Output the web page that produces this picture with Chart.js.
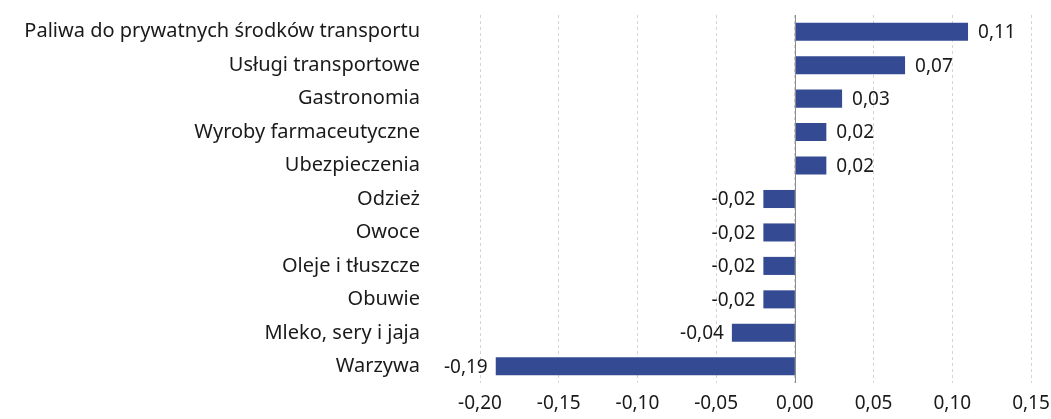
<!DOCTYPE html>
<html>
<head>
<meta charset="utf-8">
<script src="https://cdn.jsdelivr.net/npm/chart.js@4"></script>
<style>
  html, body { margin: 0; padding: 0; background: #fff; }
  #wrap { width: 1051px; height: 419px; }
</style>
</head>
<body>
<div id="wrap"><canvas id="myChart" width="1051" height="419"></canvas></div>
<script>
document.addEventListener("DOMContentLoaded", () => {

  const categories = [
    "Paliwa do prywatnych środków transportu",
    "Usługi transportowe",
    "Gastronomia",
    "Wyroby farmaceutyczne",
    "Ubezpieczenia",
    "Odzież",
    "Owoce",
    "Oleje i tłuszcze",
    "Obuwie",
    "Mleko, sery i jaja",
    "Warzywa"
  ];
  const values = [0.11, 0.07, 0.03, 0.02, 0.02, -0.02, -0.02, -0.02, -0.02, -0.04, -0.19];

  // -0,00 z błędu zaokrągleń -> 0,00
  const fmt = v => (Math.abs(v) < 1e-9 ? 0 : v).toFixed(2).replace('.', ',');
  const FONT = "'Noto Sans', sans-serif";

  // etykiety wartości przy słupkach + linia zera
  const labelsPlugin = {
    id: 'barLabels',
    afterDatasetsDraw(chart) {
      const { ctx, scales: { x, y } } = chart;
      const x0 = x.getPixelForValue(0);
      ctx.save();
      ctx.strokeStyle = '#8c8c8c';
      ctx.lineWidth = 1;
      ctx.beginPath();
      ctx.moveTo(Math.round(x0) + 0.5, y.top);
      ctx.lineTo(Math.round(x0) + 0.5, y.bottom);
      ctx.stroke();

      ctx.font = '19px ' + FONT;
      ctx.fillStyle = '#1a1a1a';
      ctx.textBaseline = 'middle';
      chart.getDatasetMeta(0).data.forEach((bar, i) => {
        const v = values[i];
        if (v >= 0) {
          ctx.textAlign = 'left';
          ctx.fillText(fmt(v), bar.x + 10, bar.y + 1);
        } else {
          ctx.textAlign = 'right';
          ctx.fillText(fmt(v), bar.x - 8, bar.y + 1);
        }
      });
      ctx.restore();
    }
  };

  new Chart(document.getElementById('myChart').getContext('2d'), {
    type: 'bar',
    data: {
      labels: categories,
      datasets: [{
        data: values,
        backgroundColor: '#344b94',
        borderWidth: 0,
        barPercentage: 0.54,
        categoryPercentage: 1
      }]
    },
    options: {
      indexAxis: 'y',
      responsive: false,
      animation: false,
      layout: { padding: { top: 15, right: 20 } },
      plugins: {
        legend: { display: false },
        tooltip: { enabled: false }
      },
      scales: {
        x: {
          min: -0.2,
          max: 0.15,
          ticks: {
            stepSize: 0.05,
            color: '#1a1a1a',
            font: { family: FONT, size: 19 },
            padding: 9,
            callback: v => fmt(v)
          },
          grid: {
            color: '#d4d4d4',
            drawTicks: false
          },
          border: { display: false, dash: [3, 3] },
          afterFit: s => { s.height = 36; s.paddingLeft = 0; s.paddingRight = 0; }
        },
        y: {
          ticks: {
            color: '#1a1a1a',
            font: { family: FONT, size: 20 },
            padding: 60
          },
          grid: { display: false, drawTicks: false },
          border: { display: false },
          afterFit: s => { s.width = 480; s.paddingTop = 0; s.paddingBottom = 0; }
        }
      }
    },
    plugins: [labelsPlugin]
  });
});
</script>
</body>
</html>
